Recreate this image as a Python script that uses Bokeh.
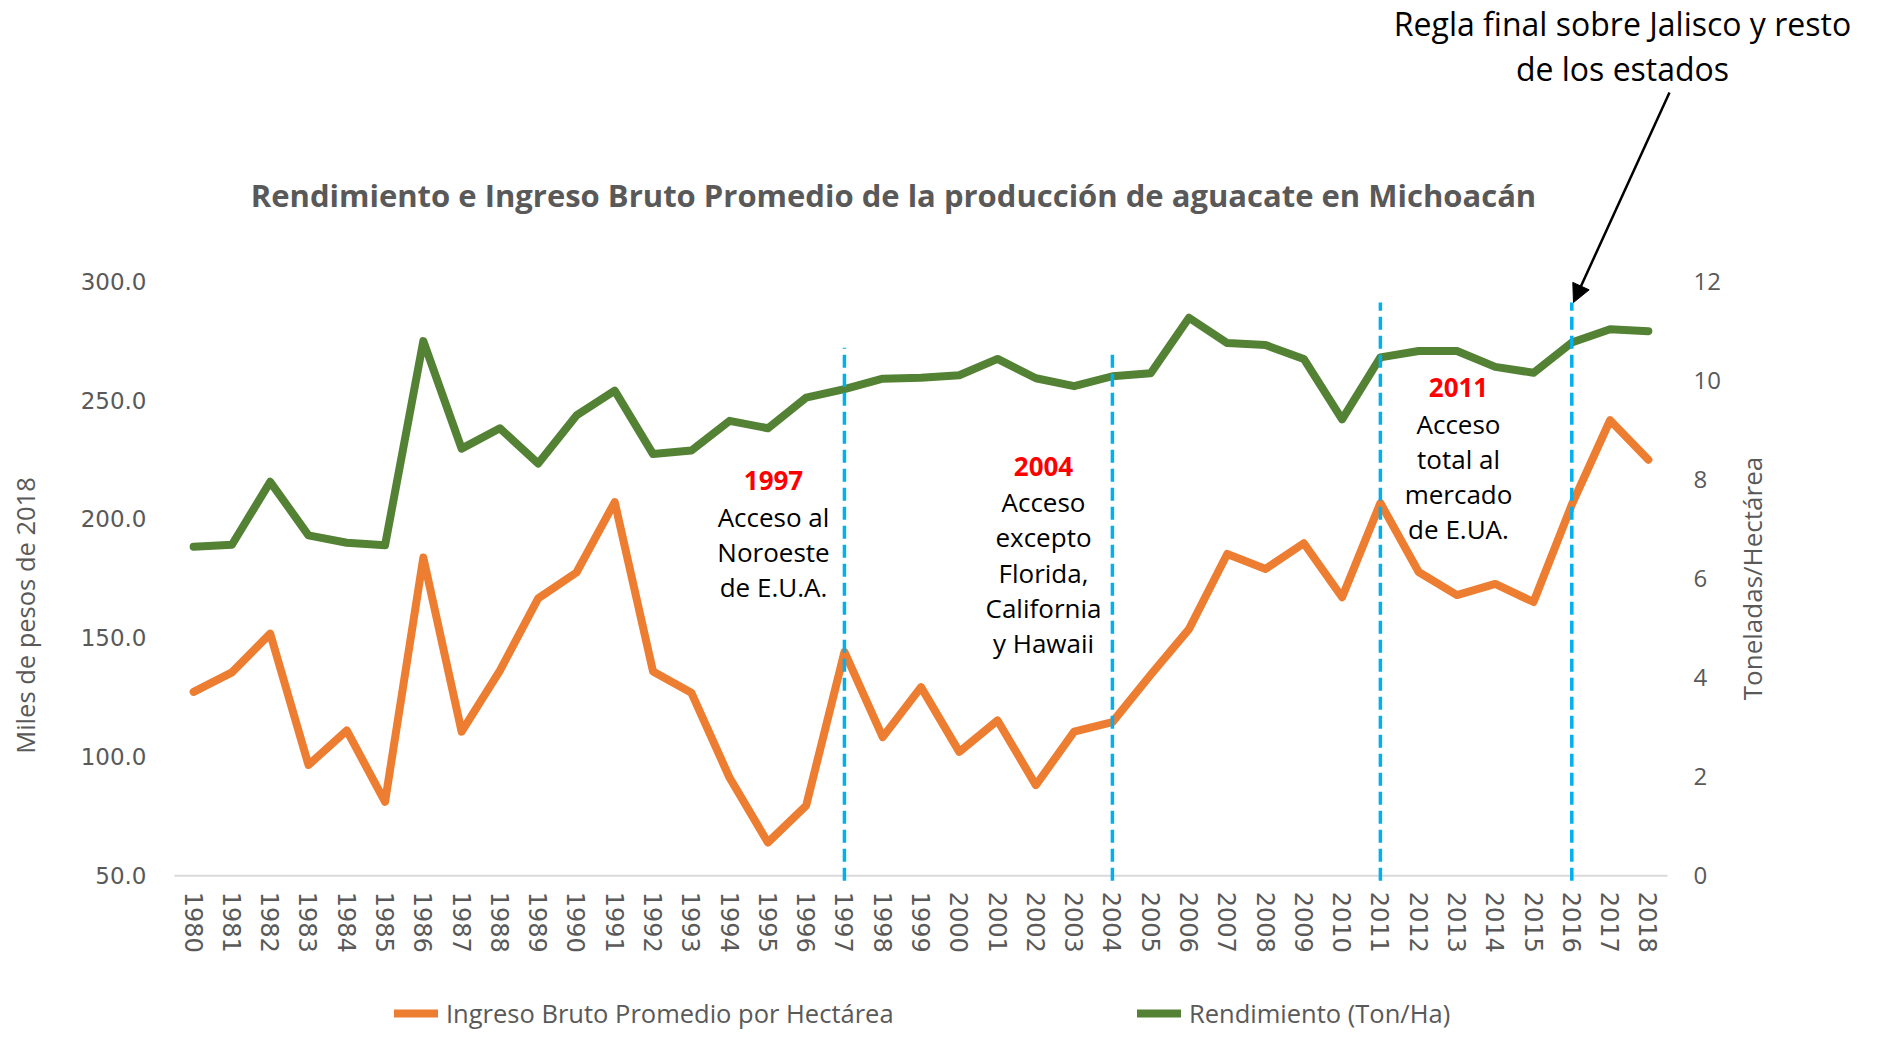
import math
from bokeh.plotting import figure
from bokeh.models import (Range1d, LinearAxis, FixedTicker, PrintfTickFormatter, Label,
                          Arrow, NormalHead, Legend, LegendItem, ColumnDataSource)
from bokeh.embed import file_html
from bokeh.resources import INLINE

# ---------------- data ----------------
years = list(range(1980, 2019))
ingreso = [127.3, 135.5, 151.8, 96.6, 111.1, 81.1, 183.8, 110.6, 136.3, 166.6,
           177.5, 207.1, 135.9, 127.0, 91.2, 64.0, 79.5, 144.1, 108.3, 129.3,
           102.1, 115.3, 88.1, 110.6, 114.6, 134.5, 153.7, 185.3, 179.0, 189.8,
           167.1, 206.7, 177.7, 168.0, 172.7, 165.1, 206.0, 241.5, 224.9]
rendimiento = [6.64, 6.68, 7.95, 6.87, 6.72, 6.67, 10.79, 8.62, 9.03, 8.32,
               9.29, 9.79, 8.51, 8.58, 9.18, 9.03, 9.65, 9.82, 10.03, 10.05,
               10.10, 10.43, 10.04, 9.88, 10.08, 10.14, 11.26, 10.75, 10.71, 10.43,
               9.21, 10.46, 10.59, 10.59, 10.27, 10.15, 10.76, 11.03, 10.99]
event_years = [1997, 2004, 2011, 2016]
event_tops = [272.0, 270.0, 291.0, 291.0]
left_ticks = [50, 100, 150, 200, 250, 300]
right_ticks = [0, 2, 4, 6, 8, 10, 12]

# ---------------- geometry (pixels of the page) ----------------
W, H = 1864, 1031
FL, FR = 174.0, 1667.0      # plot area left/right
FT, FB = 280.6, 875.3       # plot area top (300 / 12) and bottom (50 / 0)
XA, XB = 1979.5, 2018.5
YA, YB = 50.0, 300.0
PXX = (FR - FL) / (XB - XA)
PXY = (FB - FT) / (YB - YA)


def X(px):
    return XA + (px - FL) / PXX


def Y(py):
    return YB - (py - FT) / PXY


ys0, ys1 = Y(H), Y(0)
GREY = "#595959"
ORANGE = "#ED7D31"
GREEN = "#548235"
BLUE = "#00B0F0"

p = figure(width=W, height=H, output_backend="svg", toolbar_location=None,
           x_range=Range1d(X(0), X(W)), y_range=Range1d(ys0, ys1),
           min_border_left=0, min_border_right=0, min_border_top=0, min_border_bottom=0,
           background_fill_color="white", border_fill_color="white")
p.outline_line_color = None
p.xgrid.grid_line_color = None
p.ygrid.grid_line_color = None
to_r = lambda v: (v - YA) * 12.0 / (YB - YA)
p.extra_y_ranges = {"right": Range1d(to_r(ys0), to_r(ys1))}


def style_axis(ax, font, size, standoff):
    ax.major_label_text_font = font
    ax.major_label_text_font_size = size
    ax.major_label_text_color = GREY
    ax.major_label_standoff = standoff
    ax.axis_line_color = None
    ax.major_tick_line_color = None
    ax.minor_tick_line_color = None
    ax.major_tick_out = 0
    ax.major_tick_in = 0


# x axis
xa = p.xaxis[0]
xa.fixed_location = YA
xa.ticker = FixedTicker(ticks=years)
xa.major_label_overrides = {y: str(y) for y in years}
xa.major_label_orientation = "vertical"
style_axis(xa, "DejaVu Sans", "24px", 16)

# left axis
ya = p.yaxis[0]
ya.fixed_location = XA
ya.ticker = FixedTicker(ticks=left_ticks)
ya.formatter = PrintfTickFormatter(format="%.1f")
style_axis(ya, "DejaVu Sans", "23px", 28)

# right axis
ra = LinearAxis(y_range_name="right", ticker=FixedTicker(ticks=right_ticks), fixed_location=XB)
style_axis(ra, "Open Sans", "24px", 26)
p.add_layout(ra, "right")

# axis base line
p.segment(x0=[XA], y0=[YA], x1=[XB], y1=[YA], line_color="#D9D9D9", line_width=2)

# series
src = ColumnDataSource(dict(year=years, ingreso=ingreso, rend=rendimiento))
r_or = p.line("year", "ingreso", source=src, line_color=ORANGE, line_width=8,
              line_cap="round", line_join="round")
r_gr = p.line("year", "rend", source=src, y_range_name="right", line_color=GREEN,
              line_width=8, line_cap="round", line_join="round")

# event dashed lines
ev = ColumnDataSource(dict(x=event_years, top=event_tops,
                           bottom=[Y(FB + 5)] * len(event_years)))
p.segment(x0="x", y0="bottom", x1="x", y1="top", source=ev, line_color=BLUE,
          line_width=3.5, line_dash="13 6")


def txt(px, py, s, color="black", bold=False, size="26px", angle=0.0, font="Open Sans"):
    p.add_layout(Label(x=X(px), y=Y(py), text=s, text_align="center", text_baseline="middle",
                       text_font=font, text_font_size=size, text_color=color, angle=angle,
                       text_font_style="bold" if bold else "normal"))


# annotation blocks
txt(773, 480, "1997", "#FF0000", True)
for s, py in zip(["Acceso al", "Noroeste", "de E.U.A."], [516, 551, 586]):
    txt(773, py, s)

txt(1043, 466, "2004", "#FF0000", True)
for s, py in zip(["Acceso", "excepto", "Florida,", "California", "y Hawaii"],
                 [501, 536, 572, 607, 642]):
    txt(1043, py, s)

txt(1458, 387, "2011", "#FF0000", True)
for s, py in zip(["Acceso", "total al", "mercado", "de E.UA."], [423, 458, 493, 528]):
    txt(1458, py, s)

# title
txt(893, 194, "Rendimiento e Ingreso Bruto Promedio de la producción de aguacate en Michoacán",
    GREY, True, "31px")

# top-right note with arrow
txt(1622, 23, "Regla final sobre Jalisco y resto", size="32px")
txt(1622, 68, "de los estados", size="32px")
p.add_layout(Arrow(x_start=X(1669), y_start=Y(92), x_end=X(1573), y_end=Y(302),
                   line_color="black", line_width=2.5,
                   end=NormalHead(size=18, fill_color="black", line_color="black")))

# axis titles
txt(24, 615, "Miles de pesos de 2018", GREY, size="25.5px", angle=math.pi / 2)
txt(1751, 578, "Toneladas/Hectárea", GREY, size="26px", angle=math.pi / 2)

# legends
def make_legend(label, r, px_left):
    lg = Legend(items=[LegendItem(label=label, renderers=[r])],
                location=(px_left, 1),
                orientation="horizontal", glyph_width=44, glyph_height=22,
                label_height=22, label_standoff=8, padding=0, margin=0,
                border_line_color=None, background_fill_alpha=0,
                label_text_font="Open Sans", label_text_font_size="25.5px",
                label_text_color=GREY)
    p.add_layout(lg)


make_legend("Ingreso Bruto Promedio por Hectárea", r_or, 394)
make_legend("Rendimiento (Ton/Ha)", r_gr, 1137)

open("out.html", "w").write(file_html(p, INLINE))
